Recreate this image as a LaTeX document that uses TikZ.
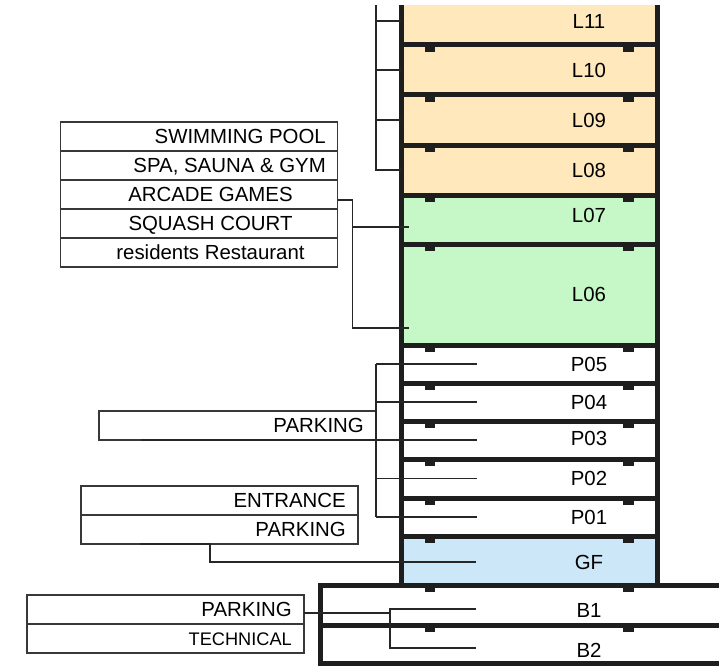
\documentclass[tikz,border=0pt]{standalone}
\usepackage{fontspec}
\setmainfont{Liberation Sans}
\usetikzlibrary{positioning,calc}
\definecolor{FloorUpper}{HTML}{FFE8BB}
\definecolor{FloorAmenity}{HTML}{C6F7C6}
\definecolor{FloorGround}{HTML}{CCE7F8}
\definecolor{WallDark}{HTML}{1E1E1E}
\definecolor{WireLine}{HTML}{262626}
\definecolor{TagLine}{HTML}{383838}
\newcommand{\labfont}{\fontsize{20.4}{24}\selectfont}
\newcommand{\smallfont}{\fontsize{18.2}{22}\selectfont}

\begin{document}
\begin{tikzpicture}[x=1pt,y=-1pt]
  \tikzset{floor/.style={rectangle,inner sep=0pt,outer sep=0pt,minimum width=256pt,anchor=north},
    flab/.style={font=\labfont,inner sep=0pt,text height=14.6pt,text depth=0pt,xshift=60pt},
    wall/.style={draw=WallDark,line width=5pt},
    slab/.style={draw=WallDark,line width=5pt,line cap=rect},
    tag/.style={rectangle,draw=TagLine,line width=1.6pt,inner sep=0pt,outer sep=0pt,
      minimum width=277pt,minimum height=29pt},
    tagr/.style={font=\labfont,inner sep=0pt,text height=14.6pt,text depth=0pt,anchor=east,xshift=-12pt},
    tagc/.style={font=\labfont,inner sep=0pt,text height=14.6pt,text depth=0pt,xshift=11.5pt},
    wire/.style={draw=WireLine,line width=1.5pt}}
  \path[use as bounding box,clip] (0,0) rectangle (719,666);

  % tower floors
  \node[floor,fill=FloorUpper,minimum height=40pt,label={[flab,yshift=4pt]center:L11}] (L11) at (529,5) {};
  \node[floor,fill=FloorUpper,minimum height=50pt,below=0pt of L11,label={[flab]center:L10}] (L10) {};
  \node[floor,fill=FloorUpper,minimum height=50pt,below=0pt of L10,label={[flab]center:L09}] (L09) {};
  \node[floor,fill=FloorUpper,minimum height=50pt,below=0pt of L09,label={[flab]center:L08}] (L08) {};
  \node[floor,fill=FloorAmenity,minimum height=49pt,below=0pt of L08,label={[flab,yshift=4pt]center:L07}] (L07) {};
  \node[floor,fill=FloorAmenity,minimum height=101pt,below=0pt of L07,label={[flab]center:L06}] (L06) {};
  \node[floor,minimum height=38pt,below=0pt of L06,label={[flab]center:P05}] (P05) {};
  \node[floor,minimum height=38pt,below=0pt of P05,label={[flab]center:P04}] (P04) {};
  \node[floor,minimum height=38pt,below=0pt of P04,label={[flab,yshift=2pt]center:P03}] (P03) {};
  \node[floor,minimum height=39pt,below=0pt of P03,label={[flab]center:P02}] (P02) {};
  \node[floor,minimum height=38pt,below=0pt of P02,label={[flab]center:P01}] (P01) {};
  \node[floor,fill=FloorGround,minimum height=49pt,below=0pt of P01,label={[flab,yshift=-1.5pt]center:GF}] (GF) {};
  % basement
  \node[floor,minimum width=418pt,minimum height=40pt,anchor=north west,
    label={[flab,yshift=-5pt]center:B1}] (B1) at (320,585) {};
  \node[floor,minimum width=418pt,minimum height=38pt,below=0pt of B1,label={[flab,yshift=-6pt]center:B2}] (B2) {};

  % structure
  \draw[wall] (L11.north west) -- (GF.south west);
  \draw[wall] (L11.north east) -- (GF.south east);
  \draw[wall] (B1.north west) -- (B2.south west);
  \foreach \f in {L10,L09,L08,L07,L06,P05,P04,P03,P02,P01,GF,B1,B2} {
    \draw[slab] (\f.north west) -- (\f.north east);
    \fill[WallDark] ($(\f.north)+(-104,2)$) rectangle +(10,5);
    \fill[WallDark] ($(\f.north)+(94,2)$) rectangle +(11,5);
  }
  \draw[slab] (B2.south west) -- (B2.south east);

  % function tags
  \node[tag,label={[tagr,xshift=0.5pt]east:SWIMMING POOL}] (pool) at (199,136.5) {};
  \node[tag,below=0pt of pool,label={[tagr,xshift=0.5pt]east:SPA, SAUNA \& GYM}] (spa) {};
  \node[tag,below=0pt of spa,label={[tagc]center:ARCADE GAMES}] (arcade) {};
  \node[tag,below=0pt of arcade,label={[tagc]center:SQUASH COURT}] (squash) {};
  \node[tag,below=0pt of squash,label={[tagc]center:residents Restaurant}] (resto) {};
  \node[tag,label={[tagr]east:PARKING}] (park) at (237.5,425.5) {};
  \node[tag,label={[tagr]east:ENTRANCE}] (entr) at (219.5,500.5) {};
  \node[tag,below=0pt of entr,label={[tagr]east:PARKING}] (gpark) {};
  \node[tag,label={[tagr]east:PARKING}] (bpark) at (165.5,609.5) {};
  \node[tag,below=0pt of bpark,label={[tagr,font=\smallfont,text height=13pt]east:TECHNICAL}] (tech) {};

  % upper levels
  \coordinate (ltop) at (376,5);
  \coordinate (inL11) at ($(L11.west)+(0,-4)$);
  \draw[wire] (ltop) |- (L08.west);
  \foreach \f in {inL11,L10.west,L09.west}
    \draw[wire] (ltop |- \f) -- (\f);

  % amenities
  \coordinate (inL07) at ($(L07.west)+(8,7.5)$);
  \coordinate (inL06) at ($(L06.south west)+(8,-17)$);
  \coordinate (recbus) at ($(arcade.east)+(15,5.5)$);
  \draw[wire] ($(arcade.east)+(0,5.5)$) -- (recbus) |- (inL06);
  \draw[wire] (recbus |- inL07) -- (inL07);

  % parking levels
  \foreach \f in {P05,P04,P03,P02,P01}
    \coordinate (in\f) at ($(\f.west)+(76,0)$);
  \draw[wire] (park.east |- inP05) -- (park.east |- inP01);
  \foreach \f in {P05,P04,P02,P01}
    \draw[wire] (park.east |- in\f) -- (in\f);
  \draw[wire] ($(park.south west)+(42,0)$) -- (inP03);

  % ground floor
  \coordinate (inGF) at ($(GF.west)+(75,1.5)$);
  \draw[wire] ($(gpark.south west)+(59,0)$) -- ($(gpark.south west)+(129,0)$) |- (inGF);

  % basement
  \coordinate (inB1) at ($(B1.west)+(156,4)$);
  \coordinate (inB2) at ($(B2.west)+(156,4)$);
  \coordinate (bbus) at ($(B1.west)+(70,0)$);
  \draw[wire] (inB1) -| (bbus |- inB2) -- (inB2);
  \coordinate (bjoin) at ($(bpark.east)+(0,3.5)$);
  \draw[wire] (bjoin) -- (bjoin -| bbus);
\end{tikzpicture}
\end{document}
